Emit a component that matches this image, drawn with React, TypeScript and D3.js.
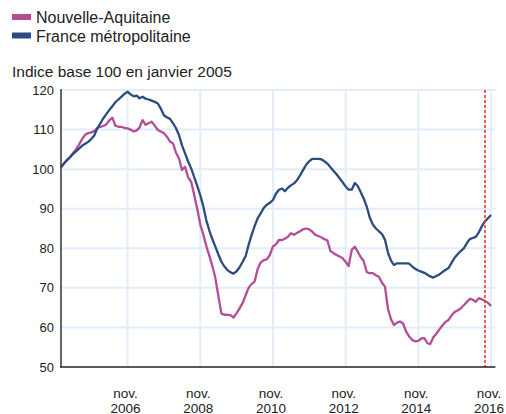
import * as d3 from 'd3';

// Monthly index, base 100 = January 2005 (Jan 2005 .. Nov 2016)
const aquitaine = [
  100.4, 101.4, 102.2, 103.0, 104.0, 105.0, 106.2, 107.6, 108.7, 109.1, 109.3, 109.6,
  110.4, 110.7, 110.9, 111.3, 112.3, 113.0, 111.0, 110.7, 110.7, 110.4, 110.3, 110.0,
  109.5, 109.8, 110.5, 112.4, 111.2, 111.6, 112.0, 111.0, 109.9, 109.5, 109.1, 108.2,
  107.0, 106.5, 104.2, 102.7, 99.8, 100.6, 98.0, 96.8, 93.5, 90.0, 86.0, 83.5,
  80.5, 78.0, 75.6, 72.6, 68.0, 63.5, 63.2, 63.2, 63.1, 62.5, 63.6, 64.8,
  66.2, 68.2, 70.0, 71.0, 71.6, 74.8, 76.4, 77.0, 77.2, 78.3, 80.4, 81.0,
  82.1, 82.1, 82.4, 82.9, 83.8, 83.4, 83.9, 84.3, 84.8, 85.0, 84.8, 84.2,
  83.4, 83.1, 82.8, 82.3, 82.0, 79.3, 78.8, 78.3, 77.9, 77.5, 76.6, 75.5,
  79.6, 80.4, 79.2, 77.8, 76.8, 74.0, 73.7, 73.7, 73.2, 72.8, 71.3, 70.3,
  64.6, 62.0, 60.6, 61.2, 61.5, 61.0, 59.0, 57.7, 56.8, 56.5, 56.6, 57.2,
  57.3, 56.0, 55.8, 57.5, 58.4, 59.5, 60.5, 61.4, 61.9, 63.0, 63.9, 64.3,
  64.8, 65.6, 66.4, 67.2, 67.0, 66.5, 67.4, 67.1, 66.7, 66.2, 65.4,
];

const france = [
  100.5, 101.5, 102.3, 103.0, 103.8, 104.5, 105.2, 105.9, 106.4, 106.9, 107.6, 108.5,
  110.3, 111.6, 112.8, 113.9, 114.9, 115.9, 116.9, 117.6, 118.3, 119.0, 119.6, 118.9,
  118.4, 118.6, 117.9, 118.3, 117.8, 117.6, 117.3, 117.0, 116.6, 115.3, 113.6, 113.1,
  112.7, 111.6, 110.4, 108.6, 106.0, 104.0, 102.0, 100.2, 98.0, 95.8, 93.4, 90.6,
  87.0, 84.4, 82.4, 80.4, 78.5, 76.6, 75.4, 74.5, 73.9, 73.6, 74.2, 75.2,
  76.6, 78.1, 80.8, 83.4, 85.6, 87.6, 88.8, 90.2, 91.0, 91.5, 92.2, 93.8,
  94.8, 95.1, 94.4, 95.3, 95.9, 96.4, 97.2, 98.4, 99.8, 101.1, 102.0, 102.6,
  102.6, 102.6, 102.5, 102.0, 101.4, 100.5, 99.6, 98.7, 97.7, 96.7, 95.6, 94.8,
  94.8, 96.5, 95.8, 94.2, 92.6, 90.5, 87.8, 86.0, 85.0, 84.3, 83.6, 82.2,
  78.8, 76.8, 75.8, 76.2, 76.2, 76.2, 76.2, 76.1, 75.4, 74.8, 74.4, 74.1,
  73.8, 73.3, 72.9, 72.6, 73.0, 73.4, 74.0, 74.5, 75.0, 76.3, 77.6, 78.5,
  79.3, 80.0, 81.2, 82.3, 82.6, 82.9, 84.0, 85.6, 86.8, 87.6, 88.4,
];

const seriesNames = ['Nouvelle-Aquitaine', 'France métropolitaine'];
const seriesColors = ['#b44d97', '#2c4b7e'];
const tickYears = [2006, 2008, 2010, 2012, 2014, 2016];
const yTicks = [50, 60, 70, 80, 90, 100, 110, 120];
const title = 'Indice base 100 en janvier 2005';

const WIDTH = 506;
const HEIGHT = 414;
const FONT = '"Liberation Sans", Arial, sans-serif';

export default function App() {
  const months = aquitaine.map((_, i) => new Date(2005, i, 1));

  const x = d3.scaleTime()
    .domain([new Date(2005, 0, 1), new Date(2016, 11, 15)])
    .range([61, 495.4]);
  const y = d3.scaleLinear().domain([50, 120]).range([367, 90]);

  const line = d3.line<number>()
    .x((_, i) => x(months[i]))
    .y((v) => y(v));

  const marker = x(new Date(2016, 8, 1));
  const right = x.range()[1];

  return (
    <svg
      width={WIDTH}
      height={HEIGHT}
      style={{ position: 'absolute', left: 0, top: 0, fontFamily: FONT }}
    >
      <rect width={WIDTH} height={HEIGHT} fill="#fff" />

      {/* legend */}
      {seriesNames.map((name, i) => (
        <g key={name} transform={`translate(12,${14 + i * 18.5})`}>
          <rect width={19} height={6} fill={seriesColors[i]} />
          <text x={24} y={9} fontSize={16} fill="#222">{name}</text>
        </g>
      ))}
      <text x={12} y={77} fontSize={15.5} fill="#222">{title}</text>

      {/* grid */}
      {yTicks.filter((t) => t > 50).map((t) => (
        <line key={t} x1={61} x2={right} y1={y(t)} y2={y(t)} stroke="#e2edfb" strokeWidth={2} />
      ))}
      {tickYears.map((yr) => (
        <line
          key={yr}
          x1={x(new Date(yr, 10, 1))}
          x2={x(new Date(yr, 10, 1))}
          y1={y(120)}
          y2={y(50)}
          stroke="#e2edfb"
          strokeWidth={2}
        />
      ))}

      {/* series */}
      {[aquitaine, france].map((s, i) => (
        <path key={i} d={line(s) || ''} fill="none" stroke={seriesColors[i]} strokeWidth={2.3} strokeLinejoin="round" />
      ))}

      {/* marker line */}
      <line x1={marker} x2={marker} y1={y(120)} y2={y(50)} stroke="#ff3030" strokeWidth={1.6} strokeDasharray="3,2" />

      {/* axes */}
      <line x1={61} x2={61} y1={y(120) - 1} y2={y(50)} stroke="#333" strokeWidth={1.5} />
      <line x1={60} x2={right} y1={y(50)} y2={y(50)} stroke="#222" strokeWidth={1.5} />

      {yTicks.map((t) => (
        <text key={t} x={54} y={y(t) + 4.5} textAnchor="end" fontSize={13} fill="#222">{t}</text>
      ))}
      {tickYears.map((yr) => {
        const cx = x(new Date(yr, 10, 1)) - 2;
        return (
          <g key={yr} fontSize={13.5} fill="#222" textAnchor="middle">
            <text x={cx} y={397.5}>nov.</text>
            <text x={cx} y={412.5}>{yr}</text>
          </g>
        );
      })}
    </svg>
  );
}
